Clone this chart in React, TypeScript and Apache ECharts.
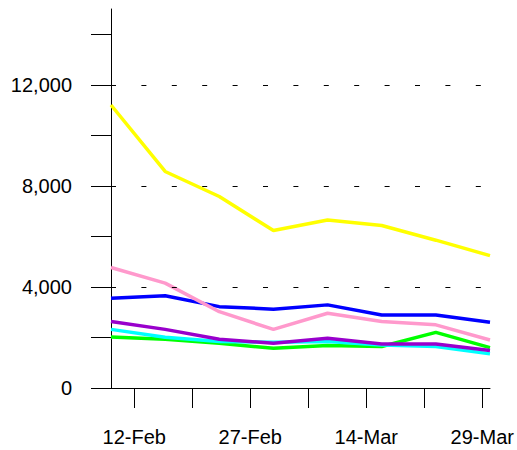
import React, { useEffect, useRef } from "react";
import * as echarts from "echarts";

const weekDates = ["2009-02-09", "2009-02-16", "2009-02-23", "2009-03-02", "2009-03-09", "2009-03-16", "2009-03-23", "2009-03-30"];
const xTickDates = ["2009-02-12 00", "2009-02-19 12", "2009-02-27 00", "2009-03-06 12", "2009-03-14 00", "2009-03-21 12", "2009-03-29 00"];
const xLabelDates = ["2009-02-12 00", "2009-02-27 00", "2009-03-14 00", "2009-03-29 00"];
const monthNames = ["Jan", "Feb", "Mar", "Apr", "May", "Jun", "Jul", "Aug", "Sep", "Oct", "Nov", "Dec"];

const yTickValues = [0, 2000, 4000, 6000, 8000, 10000, 12000, 14000];
const yLabelValues = [0, 4000, 8000, 12000];
const gridValues = [4000, 8000, 12000];

const greenValues = [2020, 1930, 1770, 1570, 1680, 1640, 2200, 1600];
const cyanValues = [2320, 2010, 1840, 1810, 1840, 1700, 1640, 1350];
const purpleValues = [2630, 2320, 1930, 1770, 1970, 1740, 1740, 1480];
const blueValues = [3550, 3650, 3220, 3120, 3290, 2890, 2890, 2600];
const pinkValues = [4770, 4150, 3020, 2320, 2960, 2630, 2500, 1900];
const yellowValues = [11200, 8570, 7580, 6230, 6650, 6430, 5850, 5240];

const DAY = 86400000;
const ORIGIN = Date.UTC(2009, 1, 12);

// days since 12-Feb-2009
function toDay(s: string): number {
  const [datePart, hourPart] = s.split(" ");
  const [y, m, d] = datePart.split("-").map(Number);
  return (Date.UTC(y, m - 1, d, hourPart ? Number(hourPart) : 0) - ORIGIN) / DAY;
}

function fmtDay(v: number): string {
  const d = new Date(ORIGIN + Math.round(v * 24) * 3600000);
  return `${d.getUTCDate()}-${monthNames[d.getUTCMonth()]}`;
}

const FONT = '"Liberation Sans", Arial, sans-serif';

export default function App() {
  const ref = useRef<HTMLDivElement>(null);
  useEffect(() => {
    if (!ref.current) return;
    const chart = echarts.init(ref.current, undefined, { renderer: "svg" });
    const xs = weekDates.map(toDay);
    const mk = (name: string, color: string, vals: number[], extra: any = {}) => ({
      name,
      type: "line",
      data: vals.map((v, i) => [xs[i], v]),
      showSymbol: false,
      symbol: "none",
      lineStyle: { color, width: 3.5 },
      itemStyle: { color },
      silent: true,
      ...extra,
    });
    chart.setOption({
      animation: false,
      backgroundColor: "#ffffff",
      grid: { left: 111, right: 27, top: 9, bottom: 62, containLabel: false },
      xAxis: {
        type: "value",
        min: xs[0],
        max: xs[xs.length - 1],
        axisLine: { show: true, onZero: false, lineStyle: { color: "#000", width: 1 } },
        axisTick: {
          show: true,
          length: 20,
          lineStyle: { color: "#000", width: 1 },
          customValues: xTickDates.map(toDay),
        },
        axisLabel: {
          show: true,
          margin: 39,
          fontSize: 20,
          color: "#000",
          fontFamily: FONT,
          customValues: xLabelDates.map(toDay),
          formatter: (v: number) => fmtDay(v),
        },
        splitLine: { show: false },
      },
      yAxis: {
        type: "value",
        min: 0,
        max: 15000,
        axisLine: { show: true, onZero: false, lineStyle: { color: "#000", width: 1 } },
        axisTick: {
          show: true,
          length: 20,
          lineStyle: { color: "#000", width: 1 },
          customValues: yTickValues,
        },
        axisLabel: {
          show: true,
          margin: 39,
          fontSize: 20,
          color: "#000",
          fontFamily: FONT,
          customValues: yLabelValues,
          formatter: (v: number) => v.toLocaleString("en-US"),
        },
        splitLine: { show: false },
      },
      series: [
        mk("Green", "#00FF00", greenValues, {
          markLine: {
            silent: true,
            symbol: "none",
            label: { show: false },
            lineStyle: { color: "#000", width: 1, type: [5, 25.4] },
            data: gridValues.map((v) => ({ yAxis: v })),
          },
        }),
        mk("Cyan", "#00FFFF", cyanValues),
        mk("Purple", "#9900CC", purpleValues),
        mk("Blue", "#0000FF", blueValues),
        mk("Pink", "#FF99CC", pinkValues),
        mk("Yellow", "#FFFF00", yellowValues),
      ],
    });
    return () => chart.dispose();
  }, []);
  return <div ref={ref} style={{ position: "fixed", left: 0, top: 0, width: 517, height: 450 }} />;
}
